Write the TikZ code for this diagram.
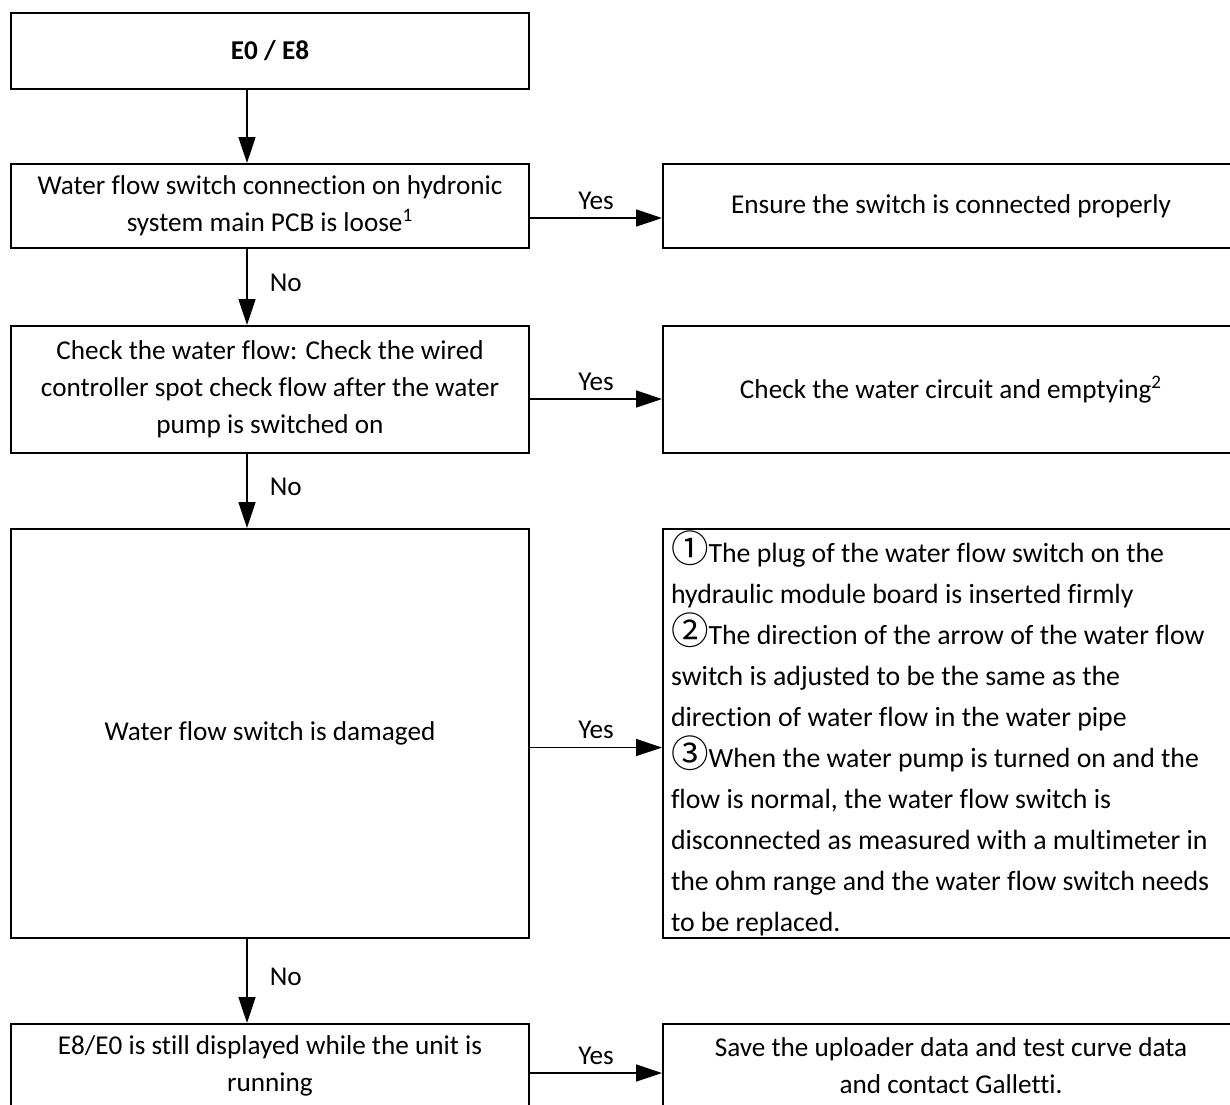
\documentclass[tikz,border=0pt]{standalone}
\usepackage{fontspec}
\setmainfont[Ligatures=NoCommon]{Carlito}
\newfontfamily\cjk[Scale=1.35]{Noto Sans CJK SC}
\usetikzlibrary{arrows.meta,positioning}
\newcommand\cnum[1]{{\cjk #1}}

\begin{document}
\begin{tikzpicture}[x=0.5pt, y=-0.5pt,
  box/.style={draw, line width=1pt, minimum width=259pt, align=center, inner sep=0pt,
    font=\fontsize{13.6pt}{18.5pt}\selectfont},
  act/.style={box, minimum width=288pt},
  flow/.style={-{Triangle[length=13pt,width=8.5pt]}, line width=0.75pt},
  lbl/.style={font=\fontsize{13.6pt}{15pt}\selectfont, inner sep=2pt}]
  \useasboundingbox (0,0) rectangle (1230,1104);
  \clip (0,0) rectangle (1230,1104);
  % ===== left column: checks =====
  \node[box, minimum height=38pt, font=\fontsize{13.6pt}{18.5pt}\selectfont\bfseries] (start) at (270,51) {E0 / E8};
  \node[box, minimum height=42pt] (loose) at (270,206)
    {Water flow switch connection on hydronic\\ system main PCB is loose\textsuperscript{1}};
  \node[box, minimum height=63.5pt] (flowchk) at (270,389.5)
    {Check the water flow: Check the wired\\ controller spot check flow after the water\\ pump is switched on};
  \node[box, minimum height=204.5pt] (damaged) at (270,733.5) {Water flow switch is damaged};
  \node[box, minimum height=42pt] (still) at (270,1066)
    {E8/E0 is still displayed while the unit is\\ running};
  % ===== right column: actions =====
  \node[act, minimum height=42pt, right=66pt of loose] (fixconn) {Ensure the switch is connected properly};
  \node[act, minimum height=63.5pt, right=66pt of flowchk] (circuit) {Check the water circuit and emptying\textsuperscript{2}};
  \node[act, minimum height=204.5pt, right=66pt of damaged, align=flush left, text width=280pt, inner xsep=4pt,
    font=\fontsize{13.9pt}{20.5pt}\selectfont] (steps)
    {\cnum{①}The plug of the water flow switch on the\\
     hydraulic module board is inserted firmly\\
     \cnum{②}The direction of the arrow of the water flow\\
     switch is adjusted to be the same as the\\
     direction of water flow in the water pipe\\
     \cnum{③}When the water pump is turned on and the\\
     flow is normal, the water flow switch is\\
     disconnected as measured with a multimeter in\\
     the ohm range and the water flow switch needs\\
     to be replaced.};
  \node[act, minimum height=42pt, right=66pt of still] (contact)
    {Save the uploader data and test curve data\\ and contact Galletti.};
  % ===== connectors =====
  \coordinate (col) at (247,0);
  \draw[flow] (start.south -| col) -- (loose.north -| col);
  \draw[flow] (loose.south -| col) -- node[lbl, pos=0.45, right=9pt] {No} (flowchk.north -| col);
  \draw[flow] (flowchk.south -| col) -- node[lbl, pos=0.45, right=9pt] {No} (damaged.north -| col);
  \draw[flow] (damaged.south -| col) -- node[lbl, pos=0.45, right=9pt] {No} (still.north -| col);
  \draw[flow] ([yshift=-6pt]loose.east) -- node[lbl, above=2pt] {Yes} ([yshift=-6pt]fixconn.west);
  \draw[flow] ([yshift=-4.75pt]flowchk.east) -- node[lbl, above=2pt] {Yes} ([yshift=-4.75pt]circuit.west);
  \draw[flow] ([yshift=-7pt]damaged.east) -- node[lbl, above=2pt] {Yes} ([yshift=-7pt]steps.west);
  \draw[flow] ([yshift=-3.5pt]still.east) -- node[lbl, above=2pt] {Yes} ([yshift=-3.5pt]contact.west);
\end{tikzpicture}
\end{document}
